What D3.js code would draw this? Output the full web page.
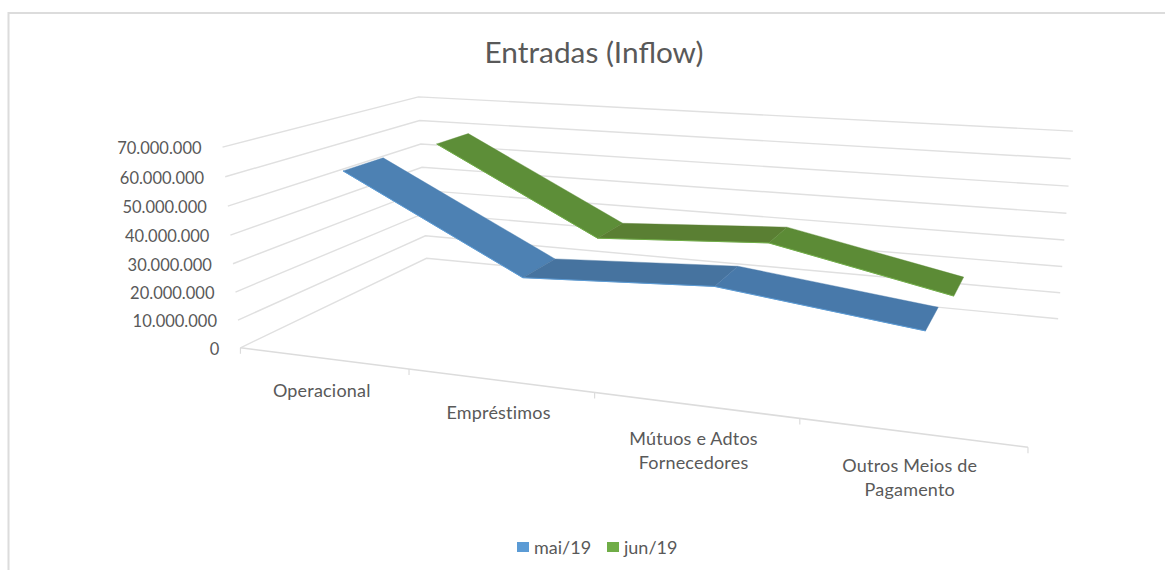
<!DOCTYPE html>
<html><head><meta charset="utf-8"><script src="https://cdn.jsdelivr.net/npm/d3@7"></script>
<style>html,body{margin:0;background:#fff}svg{display:block}text{font-family:Lato,sans-serif;fill:#595959}</style></head>
<body><svg id="c" width="1165" height="570"></svg>
<script>
const categories=[["Operacional"],["Empréstimos"],["Mútuos e Adtos","Fornecedores"],["Outros Meios de","Pagamento"]];
const seriesNames=["mai/19","jun/19"];
const mai=[60.6e6,29.2e6,32.5e6,25e6];
const jun=[59.3e6,27.6e6,31.3e6,18e6];
const yTicks=[0,1e7,2e7,3e7,4e7,5e7,6e7,7e7];
const legendColors=["#5b9bd5","#70ad47"];
const segColors=[["#4d81b3","#46739f","#4879aa"],["#5d8e38","#5a7f33","#5c8b36"]];
const edgeColors=["#5b9bd5","#70ad47"];

// Camera calibrated on the chart's box corners (box coords → screen)
const boxCorners=[[0,0,0,240,348],[1,0,0,1028,447],[0,0,1,427,258],[1,0,1,1058,319],[0,1,0,223,147],[0,1,1,418,97],[1,1,1,1073,131]];
function solve(A,b){const n=b.length,M=A.map((r,i)=>[...r,b[i]]);for(let i=0;i<n;i++){let q=i;for(let k=i;k<n;k++)if(Math.abs(M[k][i])>Math.abs(M[q][i]))q=k;[M[i],M[q]]=[M[q],M[i]];for(let k=0;k<n;k++)if(k!=i){const f=M[k][i]/M[i][i];for(let j=i;j<=n;j++)M[k][j]-=f*M[i][j];}}return M.map((r,i)=>r[n]/r[i]);}
const R=[],B=[];
boxCorners.forEach(([X,Y,z,u,v])=>{R.push([X,Y,z,1,0,0,0,0,-u*X,-u*Y,-u*z]);B.push(u);R.push([0,0,0,0,X,Y,z,1,-v*X,-v*Y,-v*z]);B.push(v);});
const AT=R[0].map((_,j)=>R.map(r=>r[j]));
const p=solve(AT.map(a=>AT.map(c=>d3.sum(a,(v,i)=>v*c[i]))),AT.map(a=>d3.sum(a,(v,i)=>v*B[i])));
const proj=(X,Y,z)=>{const w=p[8]*X+p[9]*Y+p[10]*z+1;return [(p[0]*X+p[1]*Y+p[2]*z+p[3])/w,(p[4]*X+p[5]*Y+p[6]*z+p[7])/w];};

const x=d3.scaleBand().domain(d3.range(categories.length)).range([0,1]);
const y=d3.scaleLinear().domain([0,7e7]).range([0,1]);
const z=d3.scaleBand().domain([0,1]).range([0,1]).paddingInner(.6).paddingOuter(.3);
const xc=i=>x(i)+x.bandwidth()/2;
const line=d3.line();
const svg=d3.select("#c");

// chart frame
svg.append("path").attr("d",line([[8.5,570],[8.5,13],[1165,13]])).attr("fill","none").attr("stroke","#dcdcdc").attr("stroke-width",2);
svg.append("text").attr("x",594).attr("y",63).attr("text-anchor","middle").attr("font-size",29.8).text("Entradas (Inflow)");

// walls
const grid=svg.append("g").attr("fill","none").attr("stroke","#e0e0e0").attr("stroke-width",1.4);
yTicks.forEach(t=>grid.append("path").attr("d",line([proj(0,y(t),0),proj(0,y(t),1),proj(1,y(t),1)])));
const axis=svg.append("g").attr("fill","none").attr("stroke","#dcdcdc").attr("stroke-width",1.6);
axis.append("path").attr("d",line([proj(0,0,0),proj(1,0,0)]));
d3.range(categories.length+1).forEach(i=>{const a=proj(i/categories.length,0,0);axis.append("path").attr("stroke-width",1.2).attr("d",line([a,[a[0],a[1]+6]]));});

// value labels
yTicks.forEach(t=>{const a=proj(0,y(t),0);svg.append("text").attr("x",a[0]-21).attr("y",a[1]+7).attr("text-anchor","end").attr("font-size",16.5).text(d3.format(",")(t).replace(/,/g,"."));});

// ribbons
const order=[1,0];
order.forEach(s=>{
  const vals=s===0?mai:jun,z0=z(s),z1=z0+z.bandwidth();
  const g=svg.append("g");
  d3.range(vals.length-1).forEach(i=>{
    const a=xc(i),b=xc(i+1),va=y(vals[i]),vb=y(vals[i+1]);
    g.append("path").attr("d",line([proj(a,va,z0),proj(b,vb,z0),proj(b,vb,z1),proj(a,va,z1)])+"Z").attr("fill",segColors[s][i]).attr("stroke",segColors[s][i]).attr("stroke-width",.4);
  });
  g.append("path").attr("d",line(vals.map((v,i)=>proj(xc(i),y(v),z0)))).attr("fill","none").attr("stroke",edgeColors[s]).attr("stroke-width",1);
});

// category labels
categories.forEach((lines,i)=>{const a=proj(xc(i),0,0);lines.forEach((l,k)=>svg.append("text").attr("x",a[0]-1).attr("y",a[1]+39+(lines.length>1?1:0)+k*24).attr("text-anchor","middle").attr("font-size",18).attr("letter-spacing",.2).text(l));});

// legend
const lx=[517,607],tx=[534,624];
seriesNames.forEach((n,i)=>{svg.append("rect").attr("x",lx[i]).attr("y",542).attr("width",12).attr("height",10).attr("fill",legendColors[i]);svg.append("text").attr("x",tx[i]).attr("y",554).attr("font-size",18).text(n);});
</script></body></html>
